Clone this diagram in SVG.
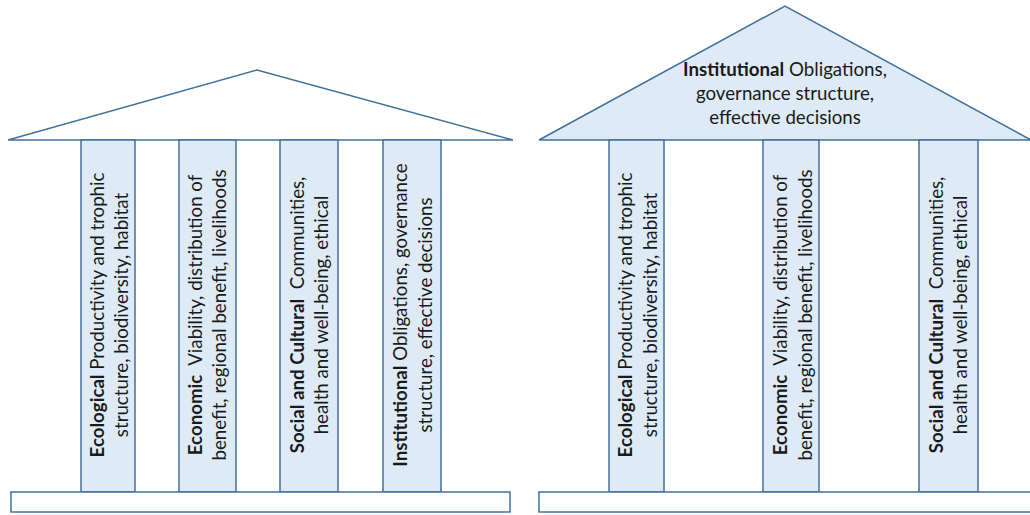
<svg xmlns="http://www.w3.org/2000/svg" width="1030" height="515" viewBox="0 0 1030 515">
<style>
.ln{stroke:#41719C;stroke-width:1.5;}
.pl{fill:#DEEBF7;stroke:#41719C;stroke-width:1.5;}
.wh{fill:#FFFFFF;stroke:#41719C;stroke-width:1.5;}
.t{font-family:Lato,"Open Sans",sans-serif;font-size:18.7px;fill:#1a1a1a;white-space:pre;}
.b{font-weight:bold;}
</style>
<rect width="1030" height="515" fill="#FFFFFF"/>
<g id="left-temple">
  <g id="left-roof"><polygon class="wh" points="8,140 257,70 513,140"/></g>
  <g id="left-ecological">
    <rect class="pl" x="81" y="140" width="54" height="352"/>
    <text class="t" text-anchor="middle" transform="translate(81,315) rotate(-90)"><tspan x="0" y="22.5"><tspan class="b">Ecological</tspan> Productivity and trophic</tspan><tspan x="0" y="47">structure, biodiversity, habitat</tspan></text>
  </g>
  <g id="left-economic">
    <rect class="pl" x="179" y="140" width="57" height="352"/>
    <text class="t" text-anchor="middle" transform="translate(179,315) rotate(-90)"><tspan x="0" y="23"><tspan class="b">Economic</tspan>  Viability, distribution of</tspan><tspan x="0" y="46.5">benefit, regional benefit, livelihoods</tspan></text>
  </g>
  <g id="left-social">
    <rect class="pl" x="280" y="140" width="58" height="352"/>
    <text class="t" text-anchor="middle" transform="translate(280,315) rotate(-90)"><tspan x="0" y="24"><tspan class="b">Social and Cultural</tspan>  Communities,</tspan><tspan x="0" y="47.5">health and well-being, ethical</tspan></text>
  </g>
  <g id="left-institutional">
    <rect class="pl" x="383" y="140" width="58" height="352"/>
    <text class="t" text-anchor="middle" transform="translate(383,315) rotate(-90)"><tspan x="0" y="24"><tspan class="b">Institutional</tspan> Obligations, governance</tspan><tspan x="0" y="48.5">structure, effective decisions</tspan></text>
  </g>
  <g id="left-base"><rect class="wh" x="11" y="492" width="499" height="20"/></g>
</g>
<g id="right-temple">
  <g id="right-roof">
    <polygon class="pl" points="539,140 785,6 1031,140"/>
    <text class="t" text-anchor="middle"><tspan x="785" y="76"><tspan class="b">Institutional</tspan> Obligations,</tspan><tspan x="785" y="100">governance structure,</tspan><tspan x="785" y="123.5">effective decisions</tspan></text>
  </g>
  <g id="right-ecological">
    <rect class="pl" x="609" y="140" width="55" height="352"/>
    <text class="t" text-anchor="middle" transform="translate(609,315) rotate(-90)"><tspan x="0" y="23"><tspan class="b">Ecological</tspan> Productivity and trophic</tspan><tspan x="0" y="47.5">structure, biodiversity, habitat</tspan></text>
  </g>
  <g id="right-economic">
    <rect class="pl" x="763" y="140" width="56" height="352"/>
    <text class="t" text-anchor="middle" transform="translate(763,315) rotate(-90)"><tspan x="0" y="24"><tspan class="b">Economic</tspan>  Viability, distribution of</tspan><tspan x="0" y="48.5">benefit, regional benefit, livelihoods</tspan></text>
  </g>
  <g id="right-social">
    <rect class="pl" x="919" y="140" width="59" height="352"/>
    <text class="t" text-anchor="middle" transform="translate(919,315) rotate(-90)"><tspan x="0" y="24"><tspan class="b">Social and Cultural</tspan>  Communities,</tspan><tspan x="0" y="48">health and well-being, ethical</tspan></text>
  </g>
  <g id="right-base"><rect class="wh" x="539" y="492" width="500" height="20"/></g>
</g>
<g id="connectors"></g>
</svg>
